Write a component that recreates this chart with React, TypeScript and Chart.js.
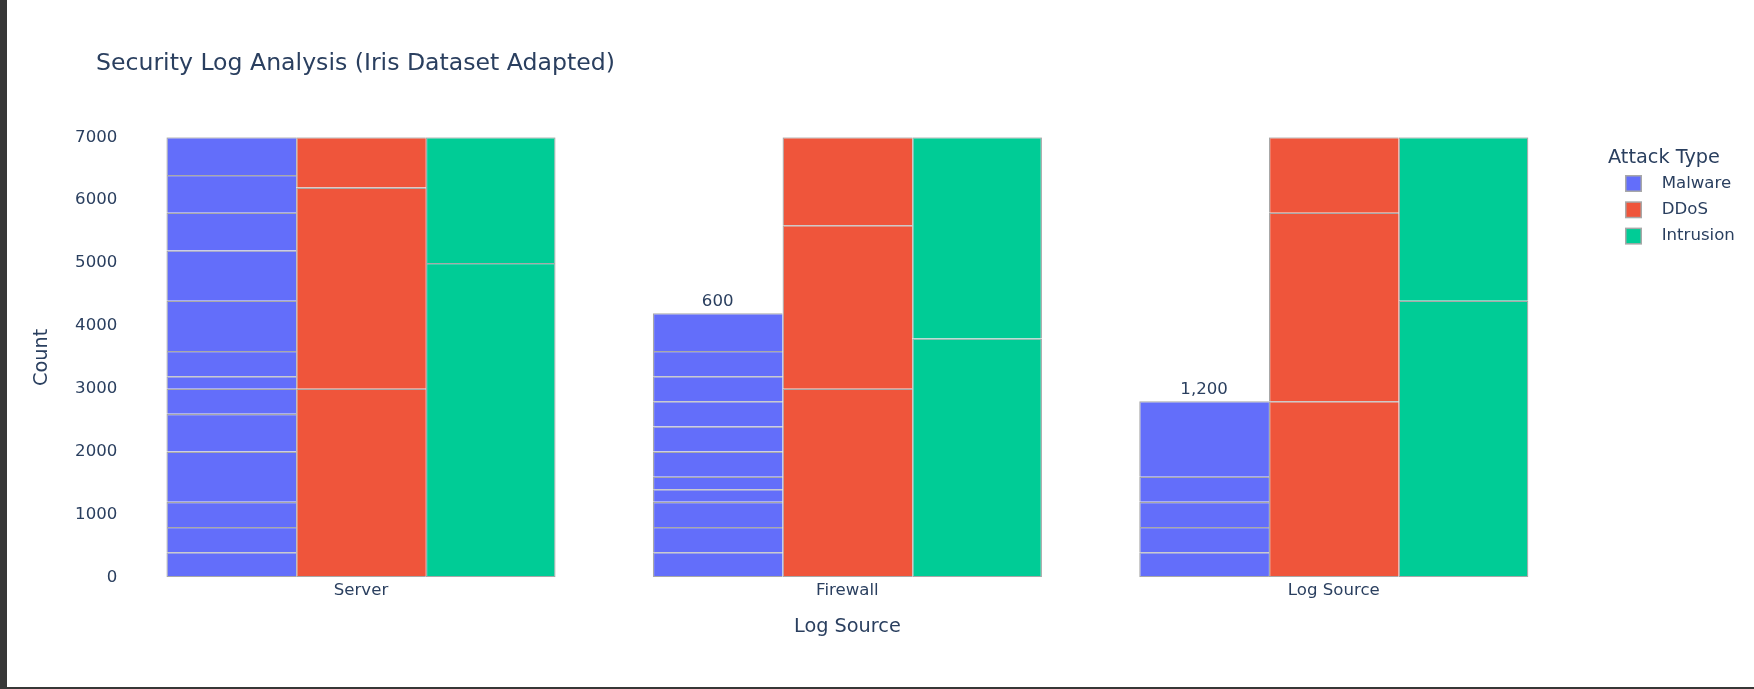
import React, { useEffect, useRef } from 'react';
import { Chart, registerables } from 'chart.js';

Chart.register(...registerables);

// ---------- data ----------
const categories = ['Server', 'Firewall', 'Log Source'];
const seriesNames = ['Malware', 'DDoS', 'Intrusion'];
const seriesColors = ['#636efa', '#EF553B', '#00cc96'];

// stacked segments per category, bottom to top
const malwareServer = [400, 400, 400, 800, 600, 400, 200, 400, 800, 800, 600, 600, 600];
const malwareFirewall = [400, 400, 400, 200, 200, 400, 400, 400, 400, 400, 600];
const malwareLogSource = [400, 400, 400, 400, 1200];
const ddosServer = [3000, 3200, 800];
const ddosFirewall = [3000, 2600, 1400];
const ddosLogSource = [2800, 3000, 1200];
const intrusionServer = [5000, 2000];
const intrusionFirewall = [3800, 3200];
const intrusionLogSource = [4400, 2600];

const yTicks = [0, 1000, 2000, 3000, 4000, 5000, 6000, 7000];

const titleText = 'Security Log Analysis (Iris Dataset Adapted)';
const xTitle = 'Log Source';
const yTitle = 'Count';
const legendTitle = 'Attack Type';

// ---------- style ----------
const FONT = "'DejaVu Sans', Verdana, sans-serif";
const TEXT = '#2a3f5f';
const EDGE = '#a8a8a8';
const TICK_SIZE = 16.6;
const AXIS_TITLE_SIZE = 19.3;
const MAIN_TITLE_SIZE = 23.6;

const segmentsBySeries = [
  [malwareServer, malwareFirewall, malwareLogSource],
  [ddosServer, ddosFirewall, ddosLogSource],
  [intrusionServer, intrusionFirewall, intrusionLogSource],
];

function buildDatasets() {
  const ds: any[] = [];
  segmentsBySeries.forEach((cats, s) => {
    const n = Math.max(...cats.map((c) => c.length));
    for (let k = 0; k < n; k++) {
      ds.push({
        label: seriesNames[s],
        stack: seriesNames[s],
        seriesIndex: s,
        data: cats.map((c) => (k < c.length ? c[k] : null)),
        backgroundColor: seriesColors[s],
        borderColor: EDGE,
        borderWidth: { top: 1.3, left: 1.3, right: s === 2 ? 1.3 : 0, bottom: k === 0 ? 1.3 : 0 },
        borderSkipped: false,
        categoryPercentage: 0.8,
        barPercentage: 1,
      });
    }
  });
  return ds;
}

const overlayPlugin = {
  id: 'overlay',
  afterDatasetsDraw(chart: any) {
    const ctx = chart.ctx;
    const yMax = yTicks[yTicks.length - 1];
    ctx.save();
    ctx.fillStyle = TEXT;
    ctx.font = `${TICK_SIZE}px ${FONT}`;
    ctx.textAlign = 'center';
    ctx.textBaseline = 'middle';
    // label over the Malware bar: value of its top segment when the bar ends below the axis max
    categories.forEach((_, i) => {
      const segs = segmentsBySeries[0][i];
      const total = segs.reduce((a, b) => a + b, 0);
      if (total >= yMax) return;
      let lastIdx = -1;
      chart.data.datasets.forEach((d: any, di: number) => {
        if (d.seriesIndex === 0 && d.data[i] != null) lastIdx = di;
      });
      if (lastIdx < 0) return;
      const el = chart.getDatasetMeta(lastIdx).data[i];
      const top = segs[segs.length - 1].toLocaleString('en-US');
      ctx.fillText(top, el.x, el.y - 11.5);
    });
    ctx.restore();
  },
  afterDraw(chart: any) {
    const ctx = chart.ctx;
    ctx.save();
    ctx.fillStyle = TEXT;
    ctx.textBaseline = 'middle';
    ctx.textAlign = 'left';
    ctx.font = `${MAIN_TITLE_SIZE}px ${FONT}`;
    ctx.fillText(titleText, 89, 63.5);

    // legend
    ctx.font = `${AXIS_TITLE_SIZE}px ${FONT}`;
    ctx.fillText(legendTitle, 1601, 158);
    ctx.font = `${TICK_SIZE}px ${FONT}`;
    seriesNames.forEach((name, s) => {
      const cy = 183.5 + s * 26.3;
      ctx.fillStyle = EDGE;
      ctx.fillRect(1618, cy - 8.5, 17, 17);
      ctx.fillStyle = seriesColors[s];
      ctx.fillRect(1619.5, cy - 7, 14, 14);
      ctx.fillStyle = TEXT;
      ctx.fillText(name, 1654.7, cy);
    });
    ctx.restore();
  },
};

export default function App() {
  const ref = useRef<HTMLCanvasElement>(null);

  useEffect(() => {
    if (!ref.current) return;
    const chart = new Chart(ref.current, {
      type: 'bar',
      data: { labels: categories, datasets: buildDatasets() },
      options: {
        responsive: false,
        animation: false,
        devicePixelRatio: 1,
        layout: { padding: { top: 137.3, right: 177, bottom: 0, left: 0 } },
        plugins: {
          legend: { display: false },
          title: { display: false },
          tooltip: { enabled: false },
        },
        scales: {
          x: {
            stacked: true,
            grid: { display: false, drawTicks: false },
            border: { display: false },
            ticks: { color: TEXT, font: { family: FONT, size: TICK_SIZE }, padding: 3.5, maxRotation: 0 },
            title: {
              display: true,
              text: xTitle,
              color: TEXT,
              font: { family: FONT, size: AXIS_TITLE_SIZE },
              padding: { top: 0, bottom: 48.5 },
            },
            afterFit: (scale: any) => {
              scale.height = 109.7;
            },
          },
          y: {
            stacked: true,
            min: 0,
            max: yTicks[yTicks.length - 1],
            grid: { display: false, drawTicks: false },
            border: { display: false },
            afterBuildTicks: (scale: any) => {
              scale.ticks = yTicks.map((v) => ({ value: v }));
            },
            ticks: {
              color: TEXT,
              font: { family: FONT, size: TICK_SIZE },
              padding: 0.5,
              callback: (v: any) => String(v),
            },
            title: {
              display: true,
              text: yTitle,
              color: TEXT,
              font: { family: FONT, size: AXIS_TITLE_SIZE },
              padding: { top: 23, bottom: 0 },
            },
            afterFit: (scale: any) => {
              scale.width = 110.8;
            },
          },
        },
      },
      plugins: [overlayPlugin],
    });
    return () => chart.destroy();
  }, []);

  return (
    <div
      style={{
        position: 'absolute',
        top: 0,
        left: 0,
        width: 1754,
        height: 689,
        background: '#373737',
        overflow: 'hidden',
      }}
    >
      <div style={{ position: 'absolute', left: 7, top: 0, width: 1747, height: 687, background: '#ffffff' }}>
        <canvas ref={ref} width={1747} height={687} style={{ display: 'block', width: 1747, height: 687 }} />
      </div>
    </div>
  );
}
